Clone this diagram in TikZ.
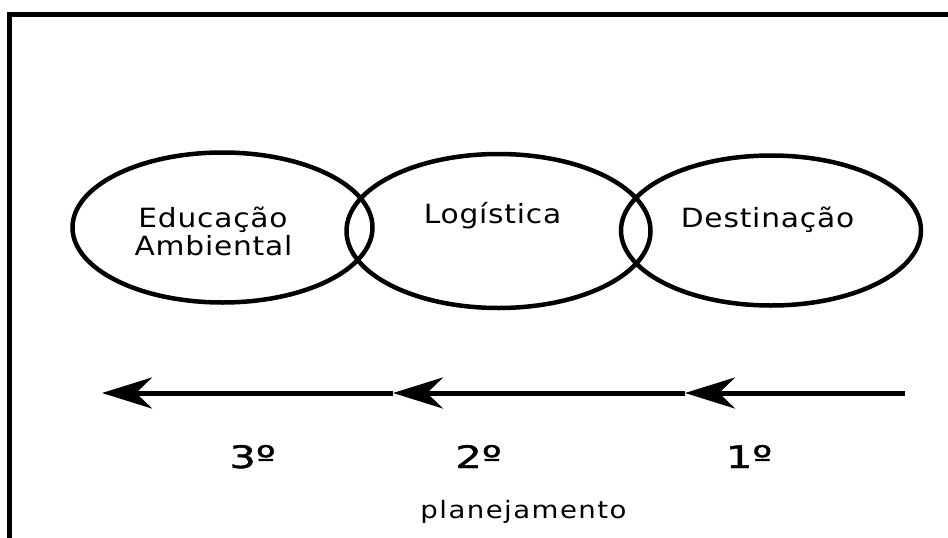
\documentclass[tikz,border=0pt]{standalone}
\usepackage{fontspec}
\setmainfont{DejaVu Sans}
\newfontfamily\lblfont{DejaVu Sans}[FakeStretch=1.12, LetterSpace=3]
\newfontfamily\numfont{DejaVu Sans}[FakeStretch=1.35, FakeBold=1.2]
\newfontfamily\planfont{DejaVu Sans}[FakeStretch=1.15, LetterSpace=6]
\usetikzlibrary{arrows.meta}
\tikzset{
  ring/.style={draw=black, line width=4.5pt},
  lbl/.style={font=\lblfont\fontsize{26.5}{28}\selectfont, inner sep=0pt, anchor=base},
  num/.style={font=\numfont\fontsize{31}{32}\selectfont, inner sep=0pt, anchor=base},
  plan/.style={font=\planfont\fontsize{24}{26}\selectfont, inner sep=0pt, anchor=base},
  flow/.style={draw=black, line width=5pt, -{Stealth[length=50pt,width=31pt,inset=16pt]}},
  frameline/.style={draw=black, line width=5pt}
}
\begin{document}
\begin{tikzpicture}[x=1pt,y=-1pt]
\useasboundingbox (0,0) rectangle (948,538);
\fill[white] (0,0) rectangle (948,538);
% frame (left and top edges)
\coordinate (fbl) at (9.5,538);
\coordinate (ftl) at (9.5,14);
\coordinate (ftr) at (948,14);
\draw[frameline] (fbl) -- (ftl) -- (ftr);
% ellipses
\draw[ring] (222.5,227.5) ellipse [x radius=150, y radius=75];
\draw[ring] (498.5,231) ellipse [x radius=152, y radius=77];
\draw[ring] (771,230.5) ellipse [x radius=150, y radius=75];
% labels
\node[lbl] (edu) at (213,227) {Educação};
\node[lbl] (amb) at (213.5,255) {Ambiental};
\node[lbl] (log) at (492.5,223) {Logística};
\node[lbl] (des) at (767.5,227) {Destinação};
% arrows
\coordinate (a0) at (905,393);
\coordinate (a1) at (685,393);
\coordinate (a2) at (393,393);
\coordinate (a3) at (102,393);
\draw[flow] (a0) -- (a1);
\draw[flow] (a1) -- (a2);
\draw[flow] (a2) -- (a3);
% step numbers
\node[num] (n3) at (252.5,468) {3º};
\node[num] (n2) at (478.5,468) {2º};
\node[num] (n1) at (749,468) {1º};
\node[plan] (pl) at (523.5,518) {planejamento};
\end{tikzpicture}
\end{document}
